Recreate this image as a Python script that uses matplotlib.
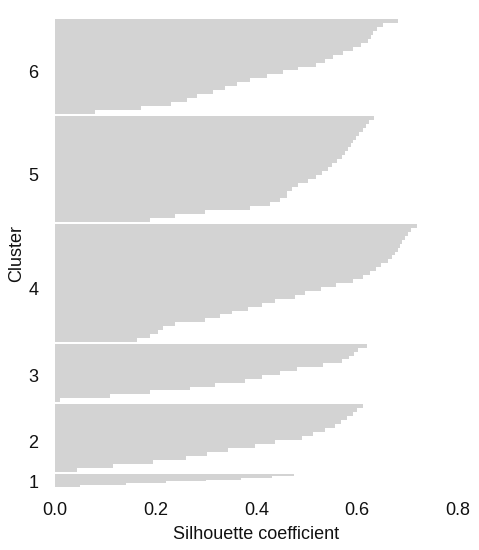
import numpy as np
import matplotlib
matplotlib.use("Agg")
import matplotlib.pyplot as plt

plt.rcParams["font.family"] = ["Liberation Sans", "DejaVu Sans"]

# silhouette values per cluster, read top -> bottom (sorted descending)
cluster_labels = ["1", "2", "3", "4", "5", "6"]
cluster_sizes = [13, 68, 58, 118, 106, 95]
sil_1 = [0.474, 0.43, 0.37, 0.30, 0.22, 0.14, 0.05]
sil_2 = [0.612, 0.600, 0.592, 0.580, 0.567, 0.556, 0.536, 0.513, 0.490,
         0.437, 0.397, 0.344, 0.301, 0.261, 0.195, 0.116, 0.043]
sil_3 = [0.620, 0.602, 0.594, 0.584, 0.569, 0.533, 0.480, 0.447, 0.411,
         0.377, 0.318, 0.268, 0.189, 0.109, 0.010]
sil_4 = [0.718, 0.707, 0.701, 0.695, 0.689, 0.685, 0.680, 0.675, 0.668,
         0.662, 0.648, 0.637, 0.625, 0.612, 0.591, 0.558, 0.529, 0.496,
         0.476, 0.437, 0.411, 0.383, 0.351, 0.328, 0.298, 0.238, 0.214,
         0.204, 0.189, 0.163]
sil_5 = [0.633, 0.623, 0.617, 0.611, 0.604, 0.598, 0.592, 0.587, 0.582,
         0.576, 0.569, 0.559, 0.549, 0.541, 0.531, 0.519, 0.503, 0.483,
         0.470, 0.461, 0.461, 0.447, 0.427, 0.387, 0.298, 0.238, 0.189]
sil_6 = [0.681, 0.652, 0.640, 0.632, 0.627, 0.622, 0.607, 0.592, 0.572,
         0.552, 0.536, 0.519, 0.483, 0.453, 0.420, 0.387, 0.361, 0.337,
         0.314, 0.281, 0.262, 0.230, 0.170, 0.080]
sil_values = [sil_1, sil_2, sil_3, sil_4, sil_5, sil_6]
xticks = [0.0, 0.2, 0.4, 0.6, 0.8]

fig = plt.figure(figsize=(4.79, 5.5), dpi=100)
ax = fig.add_axes([55 / 479, 1 - 487 / 550, (458 - 55) / 479, (487 - 19) / 550])

gap = 2
y_lower = 0
tick_pos = []
for size, vals in zip(cluster_sizes, sil_values):
    vals = np.array(vals[::-1])  # bottom -> top ascending
    h = size / len(vals)
    ys = y_lower + h * np.arange(len(vals))
    ax.barh(ys, vals, height=h, align="edge", color="#d3d3d3", linewidth=0)
    tick_pos.append(y_lower + 0.45 * size)
    y_lower += size + gap

ax.set_xlim(0, 0.8)
ax.set_ylim(0, y_lower - gap)
ax.set_xticks(xticks)
ax.set_xticklabels([f"{t:.1f}" for t in xticks])
ax.set_yticks(tick_pos)
ax.set_yticklabels(cluster_labels)
ax.tick_params(axis="both", length=0, labelsize=13, colors="#111111")
ax.tick_params(axis="y", pad=12)
ax.tick_params(axis="x", pad=11)
for s in ax.spines.values():
    s.set_visible(False)
ax.set_xlabel("Silhouette coefficient", fontsize=13, color="#111111", labelpad=5)
ax.set_ylabel("Cluster", fontsize=13, color="#111111", labelpad=2)

fig.savefig("out.png", dpi=100)
